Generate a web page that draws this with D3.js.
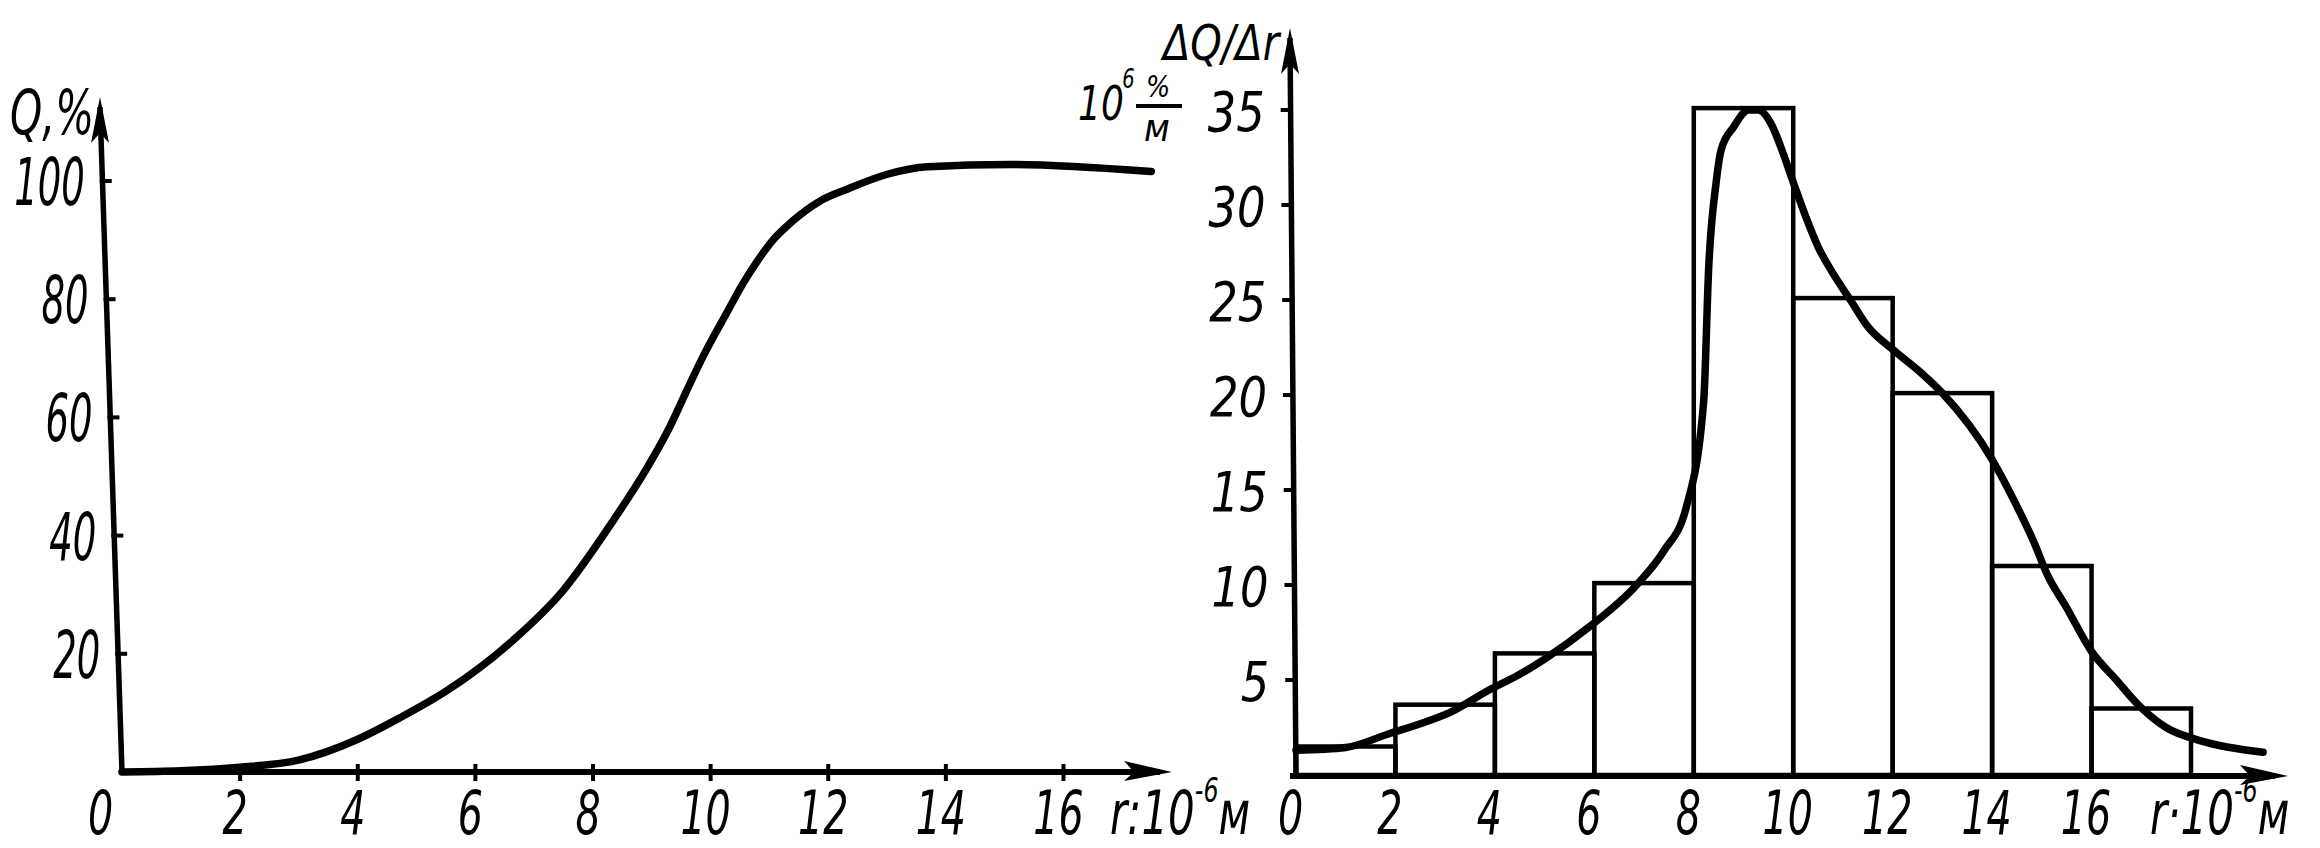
<!DOCTYPE html>
<html><head><meta charset="utf-8">
<script src="https://cdn.jsdelivr.net/npm/d3@7/dist/d3.min.js"></script>
<style>
html,body{margin:0;padding:0;background:#fff;}
svg text{font-family:"DejaVu Sans","Liberation Sans",sans-serif;font-style:italic;fill:#000;}
</style></head><body>
<svg id="c" width="2320" height="848"></svg>
<script>
// ---------- data ----------
// left: cumulative curve Q(r), %
const cumTicksX = [0, 2, 4, 6, 8, 10, 12, 14, 16];
const cumTicksY = [20, 40, 60, 80, 100];
const cumR = [0, 1, 2, 3.0, 4.0, 4.73, 5.53, 6.65, 7.5, 8.35, 8.93, 9.32, 9.6, 9.9, 10.3, 10.55, 10.8, 11.05, 11.4, 11.85, 12.35, 13.0, 13.7, 15.1, 17.5];
const cumQ = [0, 0.2, 0.8, 2.0, 5.5, 9.2, 13.8, 22.3, 30.7, 42.5, 51.5, 58.5, 64.5, 70.7, 78.0, 82.5, 86.4, 89.8, 93.2, 96.5, 98.7, 101.1, 102.4, 102.8, 101.6];
// right: histogram ΔQ/Δr, 10^6 %/м
const binEdges = [0, 2, 4, 6, 8, 10, 12, 14, 16, 18];
const binHeights = [1.5, 3.7, 6.4, 10.1, 35.1, 25.1, 20.1, 11.0, 3.5];
const densR = [0, 1.0, 1.9, 2.5, 3.1, 3.9, 4.5, 5.0, 5.9, 6.85, 7.4, 7.85, 8.2, 8.3, 8.45, 8.55, 8.8, 9.1, 9.3, 9.55, 9.8, 10.0, 10.25, 10.5, 10.8, 11.15, 11.5, 12.0, 12.6, 13.0, 14.0, 14.45, 14.85, 15.1, 15.5, 16.0, 16.5, 16.9, 17.5, 18.2, 19.45];
const densD = [1.3, 1.45, 2.2, 2.7, 3.3, 4.5, 5.3, 6.1, 7.8, 10.0, 11.8, 14.1, 19.7, 26.7, 31.2, 32.9, 34.1, 35.0, 35.0, 34.3, 32.7, 31.2, 29.4, 27.8, 26.4, 25.0, 23.6, 22.4, 21.1, 20.1, 16.6, 14.4, 12.2, 10.6, 8.8, 6.5, 5.0, 3.8, 2.5, 1.8, 1.2];
const histTicksX = [0, 2, 4, 6, 8, 10, 12, 14, 16];
const histTicksY = [5, 10, 15, 20, 25, 30, 35];

const svg = d3.select("#c");
svg.append("rect").attr("width", 2320).attr("height", 848).attr("fill", "#fff");

// text helper: horizontally condensed text (hand-lettering look)
function T(g, x, y, size, sx, anchor) {
  return g.append("text").attr("transform", `translate(${x},${y}) scale(${sx},1)`)
    .attr("font-size", size).attr("text-anchor", anchor || "start");
}
function arrowUp(g, x, y) {
  g.append("path").attr("d", `M${x},${y} L${x+9},${y+46} L${x},${y+36} L${x-9},${y+46} Z`).attr("fill", "#000");
}
function arrowRight(g, x, y) {
  g.append("path").attr("d", `M${x},${y} L${x-48},${y-11} L${x-38},${y} L${x-48},${y+9} Z`).attr("fill", "#000");
}

// ---------- left chart ----------
const xL = d3.scaleLinear().domain([0, 16]).range([122, 1063]);
const yL = d3.scaleLinear().domain([0, 100]).range([772, 181]);
const gL = svg.append("g");
const topL = { x: 100, y: 97 };
const axisXL = y => xL(0) + (topL.x - xL(0)) * (yL(0) - y) / (yL(0) - topL.y);

gL.append("line").attr("x1", xL(0)).attr("y1", yL(0)).attr("x2", topL.x).attr("y2", topL.y + 10)
  .attr("stroke", "#000").attr("stroke-width", 5.5);
arrowUp(gL, topL.x, topL.y);
gL.append("line").attr("x1", xL(0) - 2).attr("y1", yL(0)).attr("x2", 1160).attr("y2", yL(0))
  .attr("stroke", "#000").attr("stroke-width", 6);
arrowRight(gL, 1172, yL(0));

// x ticks & labels
const axL = d3.axisBottom(xL).tickValues(cumTicksX).tickSize(0).tickFormat(d3.format("d"));
const gax = gL.append("g").attr("transform", `translate(0,${yL(0)})`).call(axL);
gax.select(".domain").remove();
gax.selectAll(".tick").each(function (d) {
  const t = d3.select(this);
  t.select("line").attr("y1", -8).attr("y2", 9).attr("stroke", "#000").attr("stroke-width", d === 0 ? 0 : 4);
  t.select("text").attr("x", 0).attr("y", 0).attr("dy", null)
    .attr("transform", `translate(${d === 0 ? -22 : -5},62) scale(0.66,1)`)
    .attr("font-size", 60).attr("text-anchor", "middle");
});
// y ticks & labels
cumTicksY.forEach(v => {
  const y = yL(v), x = axisXL(y);
  gL.append("line").attr("x1", x - 3).attr("x2", x + 9).attr("y1", y).attr("y2", y).attr("stroke", "#000").attr("stroke-width", 4);
  T(gL, x - 18, y + 24, 66, 0.56, "end").text(v);
});
// curve
gL.append("path").datum(cumR.map((r, i) => [r, cumQ[i]]))
  .attr("d", d3.line().x(d => xL(d[0])).y(d => yL(d[1])).curve(d3.curveMonotoneX))
  .attr("fill", "none").attr("stroke", "#000").attr("stroke-width", 7.5).attr("stroke-linecap", "round");
// titles
T(gL, 10, 134, 62, 0.66).text("Q,%");
const tl = T(gL, 1110, 834, 60, 0.7);
tl.append("tspan").text("r:10");
tl.append("tspan").attr("font-size", 34).attr("dy", -32).text("-6");
tl.append("tspan").attr("dy", 32).text("м");

// ---------- right chart ----------
const xR = d3.scaleLinear().domain([0, 18]).range([1296, 2191]);
const yR = d3.scaleLinear().domain([0, 35]).range([775, 110]);
const gR = svg.append("g");
const topR = { x: 1290, y: 28 };
const axisXR = y => xR(0) + (topR.x - xR(0)) * (yR(0) - y) / (yR(0) - topR.y);

// bars
gR.selectAll("rect.bar").data(binHeights).join("rect").attr("class", "bar")
  .attr("x", (d, i) => xR(binEdges[i])).attr("width", (d, i) => xR(binEdges[i + 1]) - xR(binEdges[i]))
  .attr("y", d => yR(d)).attr("height", d => yR(0) - yR(d))
  .attr("fill", "none").attr("stroke", "#000").attr("stroke-width", 4.5);

gR.append("line").attr("x1", xR(0)).attr("y1", yR(0) + 1).attr("x2", topR.x).attr("y2", topR.y + 10)
  .attr("stroke", "#000").attr("stroke-width", 5.5);
arrowUp(gR, topR.x, topR.y);
gR.append("line").attr("x1", xR(0) - 6).attr("y1", yR(0) + 1).attr("x2", 2275).attr("y2", yR(0) + 1)
  .attr("stroke", "#000").attr("stroke-width", 6);
arrowRight(gR, 2288, yR(0) + 1);

const axR = d3.axisBottom(xR).tickValues(histTicksX).tickSize(0).tickFormat(d3.format("d"));
const gaxR = gR.append("g").attr("transform", `translate(0,${yR(0) + 1})`).call(axR);
gaxR.select(".domain").remove();
gaxR.selectAll(".tick").each(function () {
  const t = d3.select(this);
  t.select("line").remove();
  t.select("text").attr("x", 0).attr("y", 0).attr("dy", null)
    .attr("transform", "translate(-6,58) scale(0.66,1)")
    .attr("font-size", 60).attr("text-anchor", "middle");
});
histTicksY.forEach(v => {
  const y = yR(v), x = axisXR(y);
  gR.append("line").attr("x1", x - 10).attr("x2", x + 2).attr("y1", y).attr("y2", y).attr("stroke", "#000").attr("stroke-width", 4);
  T(gR, x - 26, y + 21, 56, 0.8, "end").text(v);
});
// density curve
gR.append("path").datum(densR.map((r, i) => [r, densD[i]]))
  .attr("d", d3.line().x(d => xR(d[0])).y(d => yR(d[1])).curve(d3.curveMonotoneX))
  .attr("fill", "none").attr("stroke", "#000").attr("stroke-width", 7.5).attr("stroke-linecap", "round");
// titles
T(gR, 1163, 60, 50, 0.8).text("ΔQ/Δr");
const tu = T(gR, 1078, 120, 48, 0.75);
tu.append("tspan").text("10");
tu.append("tspan").attr("font-size", 26).attr("dy", -32).attr("dx", -2).text("6");
T(gR, 1158, 97, 30, 0.85, "middle").text("%");
gR.append("line").attr("x1", 1136).attr("x2", 1182).attr("y1", 106).attr("y2", 106).attr("stroke", "#000").attr("stroke-width", 4);
T(gR, 1157, 141, 38, 0.9, "middle").text("м");
const tr = T(gR, 2150, 834, 60, 0.7);
tr.append("tspan").text("r·10");
tr.append("tspan").attr("font-size", 34).attr("dy", -32).text("-6");
tr.append("tspan").attr("dy", 32).text("м");
</script>
</body></html>
